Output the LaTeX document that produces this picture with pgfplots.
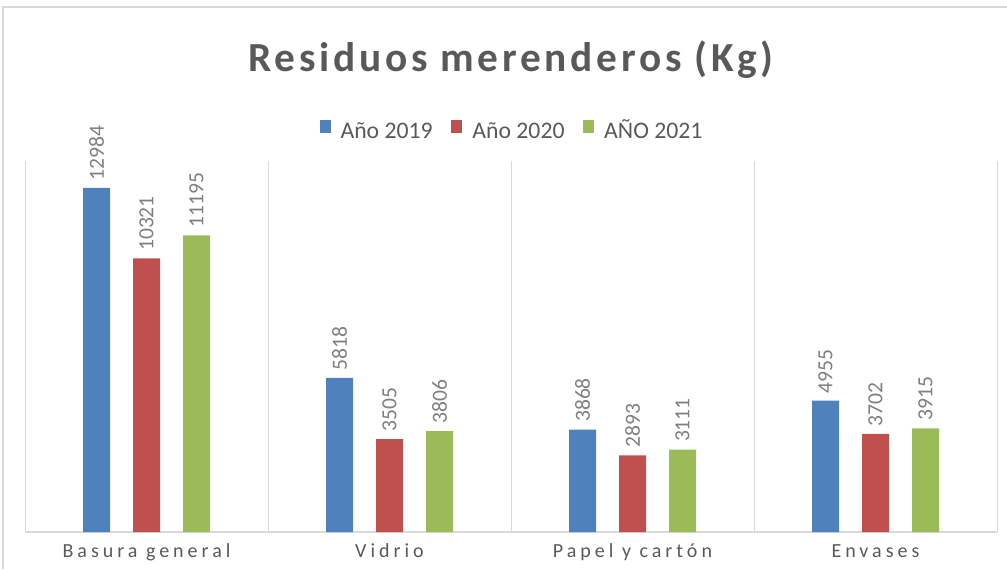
\documentclass[border=0pt]{standalone}
\usepackage{pgfplots}
\pgfplotsset{compat=1.18}
\usepackage{fontspec}
\setmainfont{Carlito}
\newfontfamily\titlefont[LetterSpace=9]{Carlito}
\newfontfamily\tickfont[LetterSpace=20]{Carlito}
\definecolor{c19}{HTML}{4F81BD}
\definecolor{c20}{HTML}{C0504D}
\definecolor{c21}{HTML}{9BBB59}
\definecolor{txt}{HTML}{595959}
\definecolor{valc}{HTML}{7F7F7F}
\definecolor{gridc}{HTML}{D9D9D9}
\begin{document}
\begin{tikzpicture}
\path[use as bounding box] (0,0) rectangle (755.25pt,426.75pt);
\draw[gridc, line width=1pt] (2.25pt,0) -- (2.25pt,421.5pt) -- (756pt,421.5pt);
\begin{axis}[
  at={(18.75pt,27.75pt)}, anchor=south west,
  scale only axis, width=729pt, height=278.25pt,
  ybar=17.25pt, bar width=20.25pt,
  xmin=-0.5, xmax=3.5, ymin=0, ymax=14000,
  xtick={0,1,2,3},
  xticklabels={Basura general,Vidrio,Papel y cartón,Envases},
  xticklabel style={font=\tickfont\fontsize{15}{18}\selectfont, text=txt, anchor=base, yshift=-18.75pt},
  ytick=\empty,
  major tick length=0pt,
  axis line style={draw=none},
  extra x ticks={-0.5,0.5,1.5,2.5,3.5}, extra x tick labels={},
  extra x tick style={grid=major, major grid style={draw=gridc, line width=0.75pt}},
  extra y ticks={0}, extra y tick labels={},
  extra y tick style={grid=major, major grid style={draw=gridc, line width=1pt}},
  clip=false,
  nodes near coords={\pgfmathprintnumber[fixed,precision=0,1000 sep={},assume math mode=true]{\pgfplotspointmeta}},
  every node near coord/.append style={font=\fontsize{16.2}{19}\selectfont, text=valc, rotate=90, anchor=west, inner xsep=5.5pt},
  title={\titlefont\bfseries Residuos merenderos (Kg)},
  title style={at={(0.5,1)}, anchor=base, yshift=61pt, font=\fontsize{31}{36}\selectfont, text=txt},
  legend style={at={(0.5,1)}, anchor=center, yshift=23.6pt, draw=none, fill=none,
    legend columns=-1, font=\fontsize{17.8}{21}\selectfont, text=txt,
    nodes={inner sep=0pt, text height=9pt, text depth=0pt},
    /tikz/every odd column/.append style={column sep=7.5pt},
    /tikz/every even column/.append style={column sep=14pt}},
  legend image code/.code={\fill[#1] (0pt,-0.6pt) rectangle (8.25pt,9.2pt);},
]
\addplot[fill=c19, draw=none] coordinates {(0,12984) (1,5818) (2,3868) (3,4955)};
\addplot[fill=c20, draw=none] coordinates {(0,10321) (1,3505) (2,2893) (3,3702)};
\addplot[fill=c21, draw=none] coordinates {(0,11195) (1,3806) (2,3111) (3,3915)};
\legend{Año 2019,Año 2020,AÑO 2021}
\end{axis}
\end{tikzpicture}
\end{document}
